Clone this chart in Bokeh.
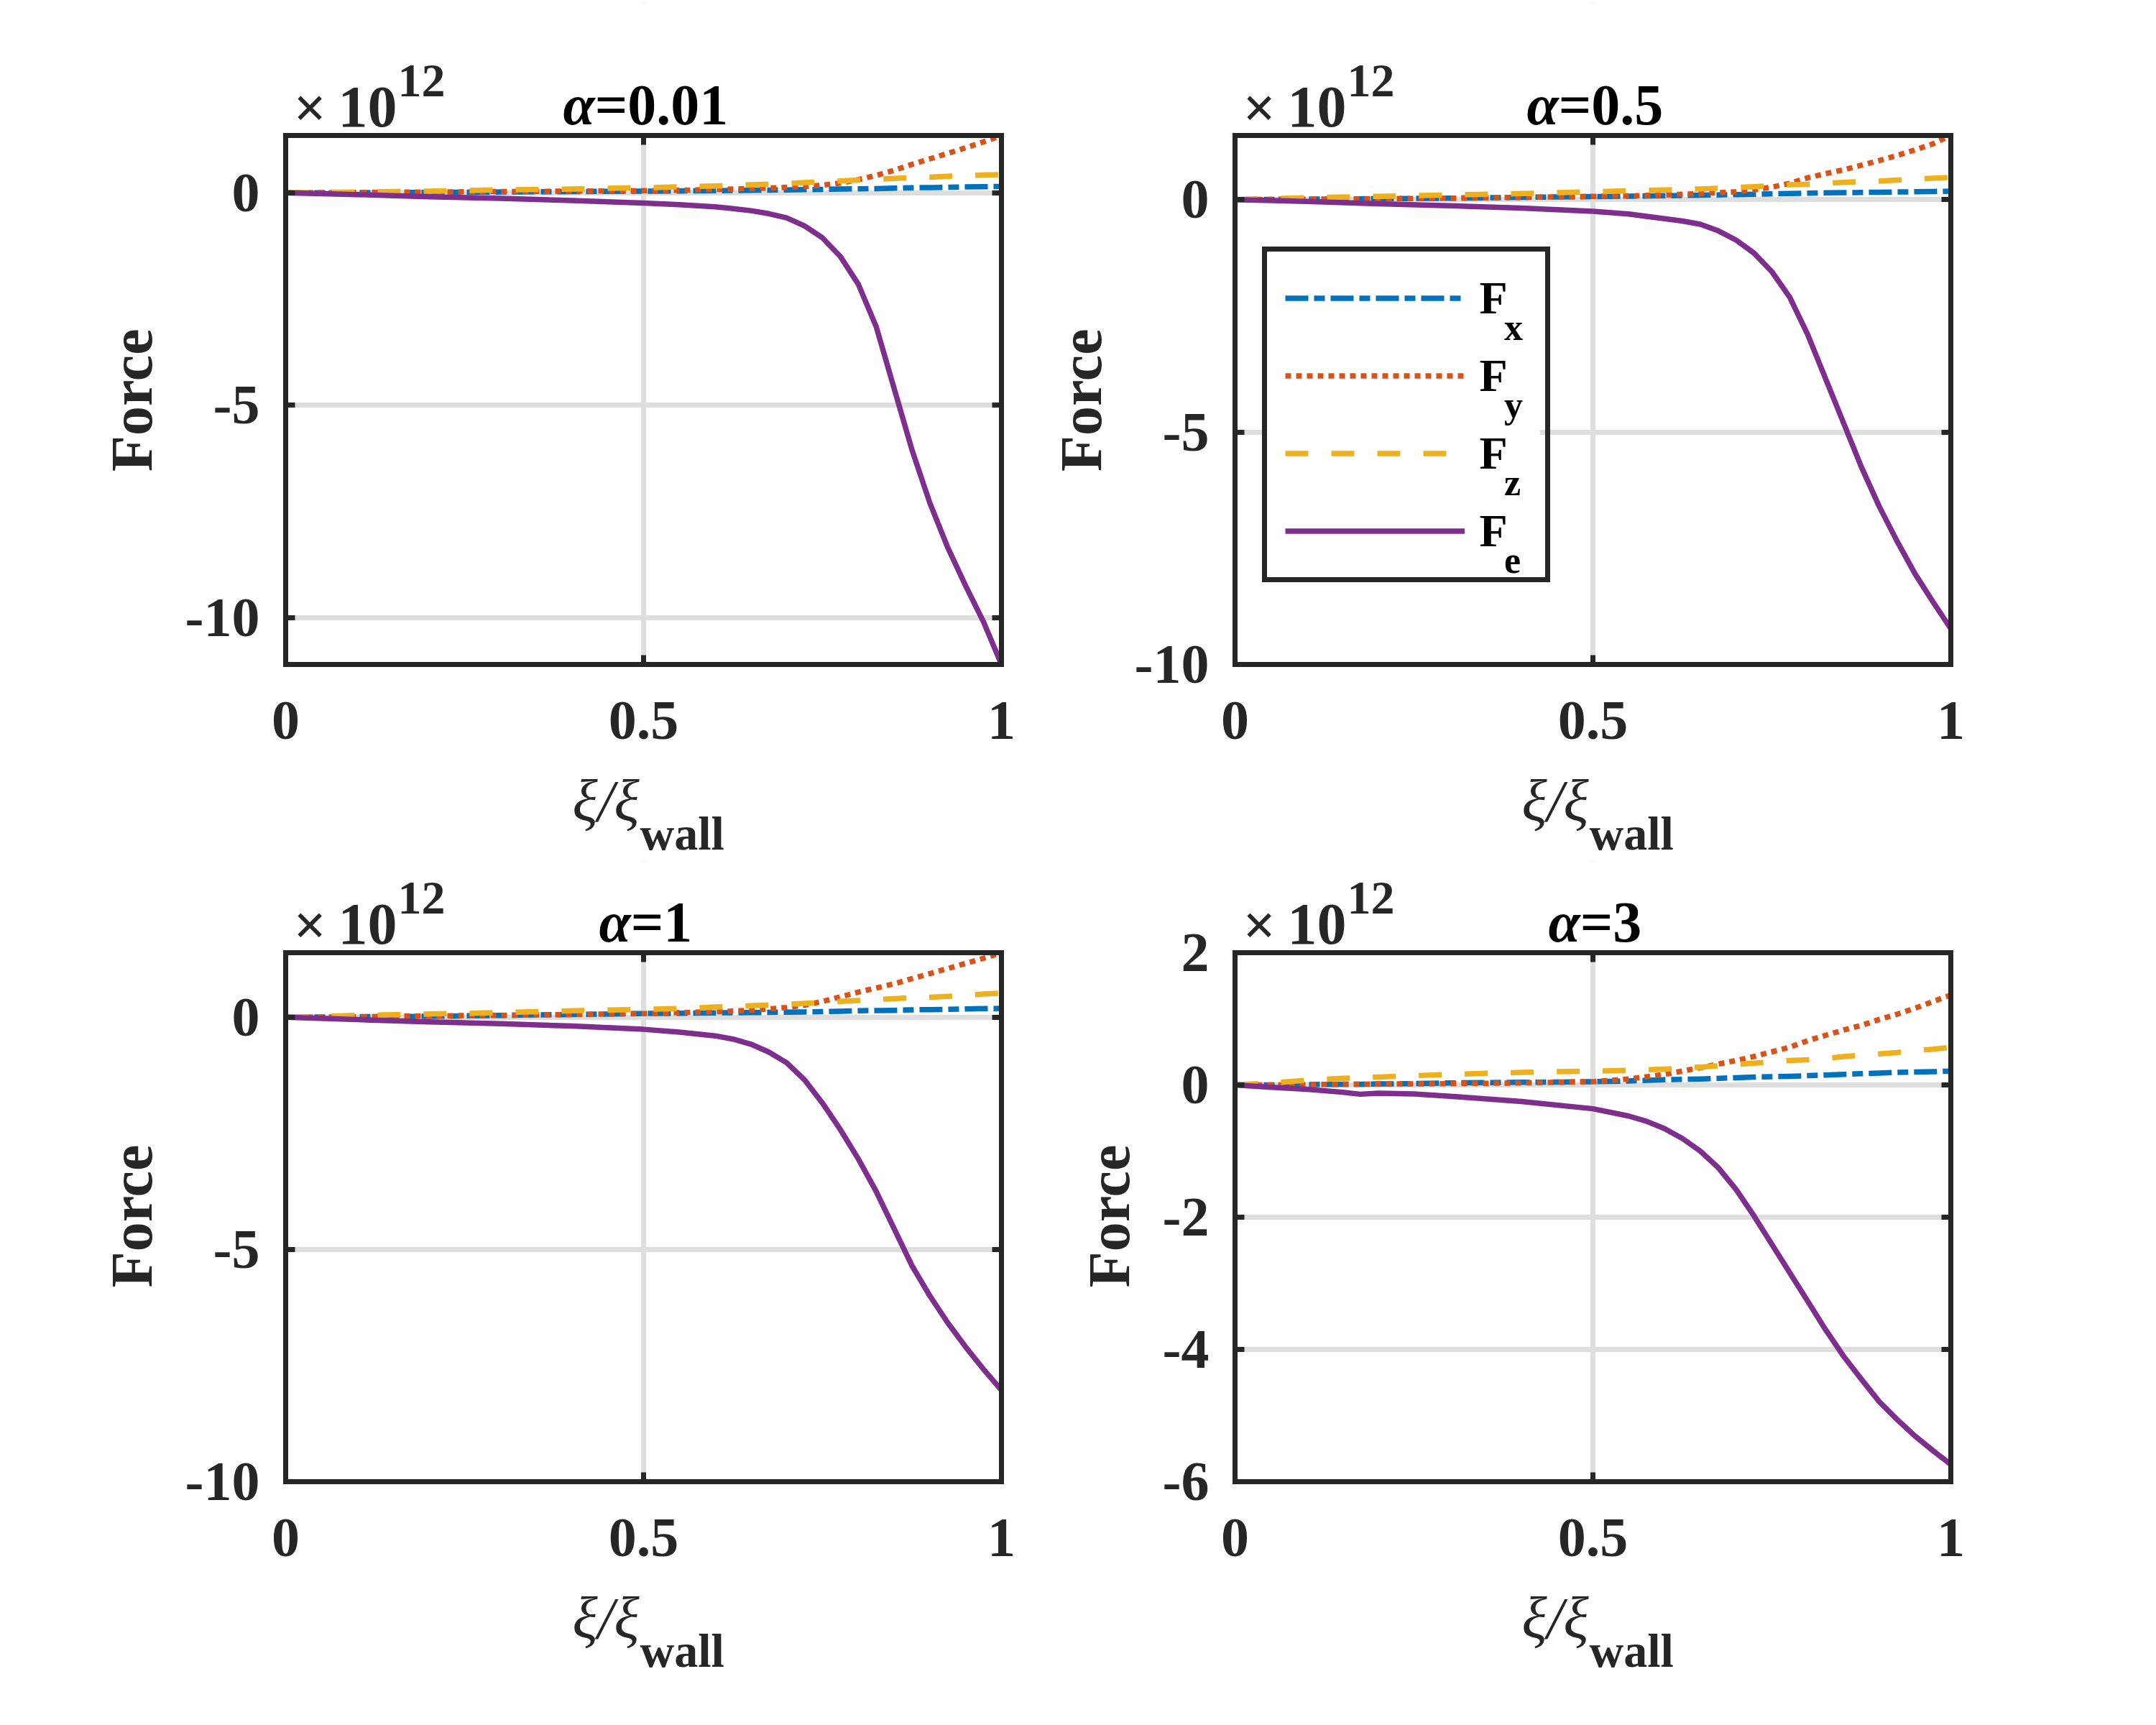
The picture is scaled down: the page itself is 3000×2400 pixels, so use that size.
from bokeh.plotting import figure
from bokeh.layouts import gridplot
from bokeh.models import (Range1d, FixedTicker, LinearAxis, Label, Legend, LegendItem,
                          BoxAnnotation)
from bokeh.embed import file_html
from bokeh.resources import INLINE

# ---------------- data (forces in units of 1e12) ----------------
xi_a = [0, 0.1, 0.2, 0.3, 0.4, 0.5, 0.55, 0.6, 0.65, 0.7, 0.725, 0.75, 0.775,
        0.8, 0.825, 0.85, 0.875, 0.9, 0.925, 0.95, 0.975, 1]
xi_e = [0, 0.1, 0.2, 0.3, 0.4, 0.5, 0.55, 0.6, 0.625, 0.65, 0.675, 0.7, 0.725, 0.75,
        0.775, 0.8, 0.825, 0.85, 0.875, 0.9, 0.925, 0.95, 0.975, 1]
xi_b = [0, 0.05, 0.1, 0.15, 0.175, 0.2, 0.25, 0.3, 0.4, 0.5, 0.55, 0.6, 0.65,
        0.7, 0.725, 0.75, 0.775, 0.8, 0.825, 0.85, 0.875, 0.9, 0.925, 0.95, 0.975, 1]
xi_be = [0, 0.05, 0.1, 0.15, 0.175, 0.2, 0.25, 0.3, 0.4, 0.5, 0.55, 0.575, 0.6, 0.625,
         0.65, 0.675, 0.7, 0.725, 0.75, 0.775, 0.8, 0.825, 0.85, 0.875, 0.9, 0.925,
         0.95, 0.975, 1]

# alpha = 0.01
fx_001 = [0, 0.005, 0.01, 0.02, 0.03, 0.04, 0.045, 0.05, 0.06, 0.07, 0.075, 0.08, 0.09,
          0.095, 0.1, 0.11, 0.12, 0.125, 0.13, 0.14, 0.145, 0.15]
fy_001 = [0, 0.01, 0.02, 0.03, 0.04, 0.05, 0.06, 0.08, 0.1, 0.13, 0.15, 0.18, 0.23,
          0.31, 0.41, 0.53, 0.67, 0.8, 0.93, 1.06, 1.2, 1.35]
fz_001 = [0, 0.02, 0.04, 0.07, 0.09, 0.12, 0.14, 0.16, 0.19, 0.22, 0.24, 0.26, 0.28,
          0.3, 0.32, 0.34, 0.36, 0.37, 0.39, 0.4, 0.42, 0.43]
fe_001 = [0, -0.04, -0.09, -0.13, -0.18, -0.24, -0.28, -0.33, -0.37, -0.42, -0.49, -0.59,
          -0.78, -1.06, -1.5, -2.15, -3.15, -4.6, -6.05, -7.3, -8.35, -9.25, -10.1, -11.1]

# alpha = 0.5
fx_05 = [0, 0.01, 0.02, 0.03, 0.05, 0.065, 0.075, 0.085, 0.095, 0.11, 0.115, 0.125, 0.13,
         0.14, 0.145, 0.15, 0.155, 0.16, 0.165, 0.17, 0.175, 0.18]
fy_05 = [0, 0.01, 0.02, 0.03, 0.05, 0.07, 0.08, 0.1, 0.13, 0.17, 0.21, 0.27, 0.35,
         0.47, 0.56, 0.64, 0.74, 0.84, 0.95, 1.07, 1.2, 1.38]
fz_05 = [0, 0.04, 0.07, 0.1, 0.13, 0.17, 0.19, 0.21, 0.23, 0.26, 0.28, 0.3, 0.32,
         0.33, 0.35, 0.37, 0.39, 0.4, 0.42, 0.44, 0.46, 0.48]
fe_05 = [0, -0.04, -0.09, -0.13, -0.18, -0.25, -0.31, -0.41, -0.46, -0.53, -0.67, -0.87,
         -1.15, -1.55, -2.1, -2.9, -3.85, -4.8, -5.75, -6.6, -7.35, -8.05, -8.65, -9.23]

# alpha = 1
fx_1 = [0, 0.01, 0.02, 0.04, 0.06, 0.08, 0.085, 0.095, 0.1, 0.11, 0.115, 0.12, 0.13,
        0.14, 0.145, 0.15, 0.16, 0.165, 0.17, 0.18, 0.185, 0.19]
fy_1 = [0, 0.01, 0.03, 0.04, 0.06, 0.08, 0.1, 0.12, 0.15, 0.21, 0.26, 0.34, 0.44,
        0.54, 0.63, 0.72, 0.83, 0.94, 1.05, 1.16, 1.27, 1.39]
fz_1 = [0, 0.04, 0.07, 0.1, 0.14, 0.17, 0.19, 0.22, 0.25, 0.28, 0.3, 0.32, 0.34,
        0.36, 0.38, 0.4, 0.42, 0.43, 0.45, 0.47, 0.5, 0.52]
fe_1 = [0, -0.05, -0.1, -0.14, -0.19, -0.26, -0.32, -0.4, -0.47, -0.58, -0.75, -0.98,
        -1.35, -1.85, -2.42, -3.05, -3.75, -4.55, -5.35, -6.0, -6.58, -7.1, -7.58, -8.03]

# alpha = 3
fx_3 = [0, 0.0, 0.005, 0.01, 0.01, 0.015, 0.02, 0.03, 0.04, 0.05, 0.06, 0.08, 0.09,
        0.11, 0.12, 0.125, 0.13, 0.14, 0.15, 0.16, 0.17, 0.18, 0.19, 0.195, 0.2, 0.21]
fy_3 = [0, 0.0, 0.005, 0.01, 0.01, 0.015, 0.015, 0.02, 0.03, 0.05, 0.09, 0.16, 0.26,
        0.37, 0.43, 0.5, 0.57, 0.67, 0.75, 0.83, 0.9, 0.99, 1.07, 1.16, 1.26, 1.36]
fz_3 = [0, 0.03, 0.07, 0.1, 0.11, 0.12, 0.14, 0.16, 0.19, 0.21, 0.22, 0.24, 0.27,
        0.31, 0.33, 0.35, 0.37, 0.38, 0.4, 0.43, 0.45, 0.47, 0.49, 0.52, 0.54, 0.57]
fe_3 = [0, -0.035, -0.065, -0.11, -0.14, -0.125, -0.135, -0.17, -0.25, -0.36, -0.47, -0.55,
        -0.66, -0.81, -1.0, -1.25, -1.58, -1.98, -2.41, -2.84, -3.27, -3.7, -4.1, -4.45,
        -4.79, -5.06, -5.31, -5.53, -5.74]

alpha_labels = ["0.01", "0.5", "1", "3"]
series_names = ["x", "y", "z", "e"]          # F_x, F_y, F_z, F_e
y_label = "Force"
x_ticks = [0, 0.5, 1]
x_tick_labels = ["0", "0.5", "1"]
y_ticks_a = [-10, -5, 0]
y_tick_labels_a = ["-10", "-5", "0"]
y_ticks_b = [-6, -4, -2, 0, 2]
y_tick_labels_b = ["-6", "-4", "-2", "0", "2"]
y_limits = [(-11.1, 1.35), (-10, 1.38), (-10, 1.39), (-6, 2)]
exponent = "12"

# ---------------- styling / layout ----------------
DARK = "#262626"
GRID = "#dedede"
FONT = "Liberation Serif"
FW, FH = 996, 736                            # size of each axes box in pixels
LW = 7.5
colors = ["#0072BD", "#D95319", "#EDB120", "#7E2F8E"]
dashes = ["32 8 15 8", "8 7", "32 32", "solid"]

COL_W = [1430, 1570]
COL_BORDERS = [(397, 37), (288, 286)]        # left / right border of each column
TOP_B, BOT_B = 4, 135                        # border above / below each plot frame
EXT = [184, 126]                             # header room inside the frame, per plot row
ROW_H = [TOP_B + EXT[0] + FH + BOT_B, 136, TOP_B + EXT[1] + FH + BOT_B, 204]
BASE_FIX = 0.28                              # label anchor correction (fraction of font size)
YLABEL_PX = 82

# legend geometry (pixels, relative to the axes box of the alpha=0.5 panel)
LEG_X, LEG_Y = 37.5, 114                     # bottom-left corner, from box bottom-left
LEG_PAD, LEG_ITEM, LEG_SPACE = 25, 79, 29
LEG_GLYPH, LEG_STANDOFF, LEG_LABEL_W = 250, 21, 66

panels = [
    dict(xs=[xi_a, xi_a, xi_a, xi_e], ys=[fx_001, fy_001, fz_001, fe_001],
         yt=y_ticks_a, ytl=y_tick_labels_a, legend=False),
    dict(xs=[xi_a, xi_a, xi_a, xi_e], ys=[fx_05, fy_05, fz_05, fe_05],
         yt=y_ticks_a, ytl=y_tick_labels_a, legend=True),
    dict(xs=[xi_a, xi_a, xi_a, xi_e], ys=[fx_1, fy_1, fz_1, fe_1],
         yt=y_ticks_a, ytl=y_tick_labels_a, legend=False),
    dict(xs=[xi_b, xi_b, xi_b, xi_be], ys=[fx_3, fy_3, fz_3, fe_3],
         yt=y_ticks_b, ytl=y_tick_labels_b, legend=False),
]

CW = {"=": 0.57, ".": 0.25}
for d in "0123456789":
    CW[d] = 0.5


def style_axis(ax, ticks, labels, show):
    ax.ticker = FixedTicker(ticks=ticks)
    ax.major_label_overrides = {t: (s if show else "") for t, s in zip(ticks, labels)}
    ax.axis_line_color = DARK
    ax.axis_line_width = 7
    ax.axis_line_cap = "square"
    ax.major_tick_line_color = DARK
    ax.major_tick_line_width = 7
    ax.major_tick_in = 13
    ax.major_tick_out = 0
    ax.minor_tick_line_color = None
    ax.major_label_text_font = FONT
    ax.major_label_text_font_style = "bold"
    ax.major_label_text_color = DARK
    if show:
        ax.major_label_text_font_size = "78px"
    else:
        ax.major_label_text_font_size = "0px"
        ax.major_label_standoff = 0


def make_strip(W, H, bl, br):
    s = figure(width=W, height=H, x_range=Range1d(0, FW), y_range=Range1d(H, 0),
               x_axis_type=None, y_axis_type=None, toolbar_location=None,
               output_backend="svg", min_border=0)
    s.min_border_left = bl
    s.min_border_right = br
    s.min_border_top = 0
    s.min_border_bottom = 0
    s.outline_line_color = None
    s.background_fill_color = "white"
    s.border_fill_color = "white"
    return s


def put_xlabel(s, frame_bottom):
    for x, y, text, size, style, align in [
            (492, frame_bottom + 212.5, "\u03be/\u03be", 82, "italic", "right"),
            (493, frame_bottom + 253.5, "wall", 66, "bold", "left")]:
        s.add_layout(Label(x=x, y=y - BASE_FIX * size, text=text, text_font=FONT,
                           text_font_size=f"{size}px", text_font_style=style,
                           text_align=align, text_baseline="alphabetic",
                           text_color=DARK))


def make_panel(i, cfg, W, H, bl, br, ext):
    ymin, ymax = y_limits[i]
    span = ymax - ymin

    def dy(ry):                       # pixel offset from box top -> data y
        return ymax - ry / FH * span

    p = figure(width=W, height=H, x_range=Range1d(0, 1),
               y_range=Range1d(ymin, dy(-ext)),
               output_backend="svg", toolbar_location=None,
               min_border_left=bl, min_border_right=br,
               min_border_top=TOP_B, min_border_bottom=BOT_B)
    p.background_fill_color = "white"
    p.border_fill_color = "white"
    p.outline_line_color = None

    style_axis(p.xaxis[0], x_ticks, x_tick_labels, True)
    p.xaxis.major_label_standoff = 52
    style_axis(p.yaxis[0], cfg["yt"], cfg["ytl"], True)
    p.yaxis.bounds = (ymin, ymax)
    p.yaxis.major_label_standoff = 36
    # the axis label is centred on the whole frame; trailing no-break spaces
    # move the visible word down to the centre of the axes box
    pad = "\u00a0" * round(ext / (0.25 * YLABEL_PX))
    p.yaxis.axis_label = y_label + pad
    p.yaxis.axis_label_text_font = FONT
    p.yaxis.axis_label_text_font_style = "bold"
    p.yaxis.axis_label_text_font_size = f"{YLABEL_PX}px"
    p.yaxis.axis_label_text_color = DARK
    p.yaxis.axis_label_standoff = 26

    ax_r = LinearAxis(bounds=(ymin, ymax))
    style_axis(ax_r, cfg["yt"], cfg["ytl"], False)
    p.add_layout(ax_r, "right")
    ax_t = LinearAxis(fixed_location=ymax)
    style_axis(ax_t, x_ticks, x_tick_labels, False)
    p.add_layout(ax_t, "above")

    p.xgrid.ticker = FixedTicker(ticks=x_ticks)
    p.ygrid.ticker = FixedTicker(ticks=cfg["yt"])
    for g in (p.xgrid, p.ygrid):
        g.grid_line_color = GRID
        g.grid_line_width = 7
    # keep the header area above the axes box clear of grid lines
    p.add_layout(BoxAnnotation(left=0, right=1, bottom=ymax, top=dy(-ext),
                               fill_color="white", fill_alpha=1.0, line_color=None,
                               level="underlay"))

    rends = []
    for xs, ys, c, dsh in zip(cfg["xs"], cfg["ys"], colors, dashes):
        r = p.line(xs, ys, line_color=c, line_width=LW, line_dash=dsh, line_join="round")
        rends.append(r)

    def put(rx, ry, text, size, style="bold", align="left", color=DARK):
        p.add_layout(Label(x=rx / FW, y=dy(ry - BASE_FIX * size), text=text,
                           text_font=FONT, text_font_size=f"{size}px",
                           text_font_style=style, text_align=align,
                           text_baseline="alphabetic", text_color=color))

    # x10^12 exponent label
    put(11, -16.5, "\u00d7", 80)
    put(73, -16.5, "10", 82)
    put(156, -57.5, exponent, 66)
    # title: alpha = value
    rest = "=" + alpha_labels[i]
    w_rest = sum(CW[ch] for ch in rest) * 80
    split = FW / 2 + (50 - w_rest) / 2
    put(split, -20, "\u03b1", 80, "bold italic", "right", "#000000")
    put(split, -20, rest, 80, "bold", "left", "#000000")

    if cfg["legend"]:
        n = len(rends)
        leg_w = 2 * LEG_PAD + LEG_GLYPH + LEG_STANDOFF + LEG_LABEL_W
        leg_h = 2 * LEG_PAD + n * LEG_ITEM + (n - 1) * LEG_SPACE
        top_px = FH - LEG_Y - leg_h            # legend top, from box top
        # opaque white backing for the (transparent) legend box
        p.add_layout(BoxAnnotation(left=LEG_X / FW, right=(LEG_X + leg_w) / FW,
                                   top=dy(top_px), bottom=dy(FH - LEG_Y),
                                   fill_color="white", fill_alpha=1.0, line_color=None))
        # subscripts of the legend entries (x, y, z, e)
        sub_x = LEG_X + LEG_PAD + LEG_GLYPH + LEG_STANDOFF + 41
        for k, s in enumerate(series_names):
            center = top_px + LEG_PAD + LEG_ITEM / 2 + k * (LEG_ITEM + LEG_SPACE)
            put(sub_x, center + 48, s, 52, "bold", "left", "#000000")
        items = [LegendItem(label="F", renderers=[r]) for r in rends]
        leg = Legend(items=items, location=(LEG_X, LEG_Y),
                     glyph_width=LEG_GLYPH, glyph_height=LEG_ITEM,
                     label_width=LEG_LABEL_W, label_height=LEG_ITEM,
                     label_standoff=LEG_STANDOFF, padding=LEG_PAD, spacing=LEG_SPACE,
                     margin=0,
                     label_text_font=FONT, label_text_font_style="bold",
                     label_text_font_size="64px", label_text_color="#000000",
                     border_line_color=DARK, border_line_width=7, border_line_alpha=1.0,
                     background_fill_alpha=0.0)
        p.add_layout(leg)
    return p


rows = [[], [], [], []]
for c in range(2):
    W = COL_W[c]
    bl, br = COL_BORDERS[c]
    p_up = make_panel(c, panels[c], W, ROW_H[0], bl, br, EXT[0])
    mid = make_strip(W, ROW_H[1], bl, br)
    p_dn = make_panel(2 + c, panels[2 + c], W, ROW_H[2], bl, br, EXT[1])
    bot = make_strip(W, ROW_H[3], bl, br)
    put_xlabel(mid, -BOT_B)                       # x label of the upper plot
    put_xlabel(bot, -BOT_B)                       # x label of the lower plot
    rows[0].append(p_up)
    rows[1].append(mid)
    rows[2].append(p_dn)
    rows[3].append(bot)

grid = gridplot(rows, toolbar_location=None)

html = file_html(grid, INLINE, "Force components")
with open("out.html", "w") as f:
    f.write(html)
